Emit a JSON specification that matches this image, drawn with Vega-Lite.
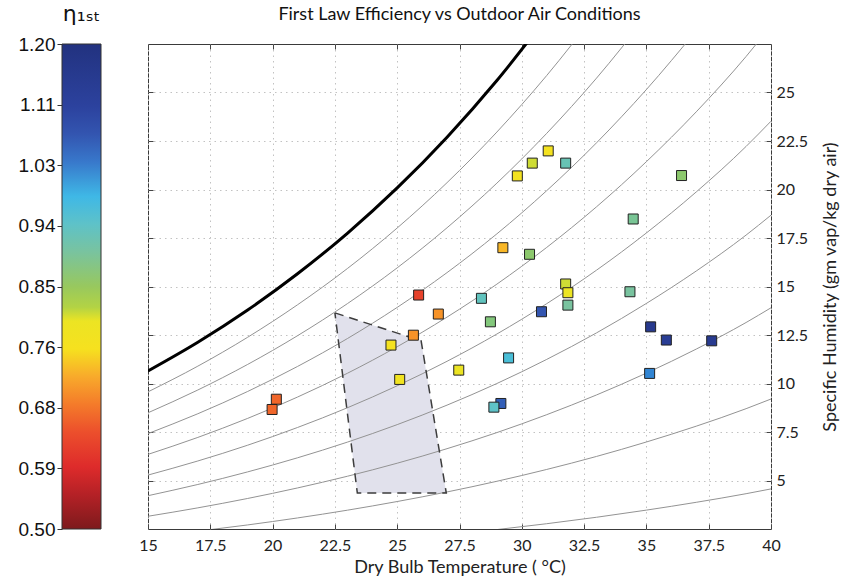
{
  "$schema": "https://vega.github.io/schema/vega-lite/v6.json",
  "background": "white",
  "padding": {"left": 18, "right": 2, "top": 3, "bottom": 1},
  "bounds": "flush",
  "spacing": 47,
  "config": {"view": {"stroke": null}, "font": "Lato"},
  "datasets": {
    "bar": [{"lo": 0.5, "hi": 1.2}],
    "comfortFill": [
      {"w": 4.35, "Tl": 23.4, "Tr": 26.97},
      {"w": 12.2, "Tl": 22.64, "Tr": 25.96},
      {"w": 13.64, "Tl": 22.5, "Tr": 22.5}
    ],
    "comfortEdge": [
      {"i": 1, "T": 22.5, "w": 13.64},
      {"i": 2, "T": 25.96, "w": 12.2},
      {"i": 3, "T": 26.97, "w": 4.35},
      {"i": 4, "T": 23.4, "w": 4.35},
      {"i": 5, "T": 22.5, "w": 13.64}
    ],
    "curves": [
      {"rh": 100, "T": 15, "w": 10.65}, {"rh": 100, "T": 17, "w": 12.129}, {"rh": 100, "T": 19, "w": 13.79}, {"rh": 100, "T": 21, "w": 15.657}, {"rh": 100, "T": 23, "w": 17.744}, {"rh": 100, "T": 25, "w": 20.082}, {"rh": 100, "T": 27, "w": 22.697}, {"rh": 100, "T": 29, "w": 25.618}, {"rh": 100, "T": 31, "w": 28.885},
      {"rh": 90, "T": 15, "w": 9.569}, {"rh": 90, "T": 17, "w": 10.894}, {"rh": 90, "T": 19, "w": 12.384}, {"rh": 90, "T": 21, "w": 14.057}, {"rh": 90, "T": 23, "w": 15.925}, {"rh": 90, "T": 25, "w": 18.016}, {"rh": 90, "T": 27, "w": 20.353}, {"rh": 90, "T": 29, "w": 22.962}, {"rh": 90, "T": 31, "w": 25.876}, {"rh": 90, "T": 33, "w": 29.109},
      {"rh": 80, "T": 15, "w": 8.491}, {"rh": 80, "T": 17, "w": 9.665}, {"rh": 80, "T": 19, "w": 10.984}, {"rh": 80, "T": 21, "w": 12.463}, {"rh": 80, "T": 23, "w": 14.115}, {"rh": 80, "T": 25, "w": 15.962}, {"rh": 80, "T": 27, "w": 18.027}, {"rh": 80, "T": 29, "w": 20.327}, {"rh": 80, "T": 31, "w": 22.895}, {"rh": 80, "T": 33, "w": 25.742}, {"rh": 80, "T": 35, "w": 28.912},
      {"rh": 70, "T": 15, "w": 7.417}, {"rh": 70, "T": 17, "w": 8.441}, {"rh": 70, "T": 19, "w": 9.59}, {"rh": 70, "T": 21, "w": 10.878}, {"rh": 70, "T": 23, "w": 12.315}, {"rh": 70, "T": 25, "w": 13.923}, {"rh": 70, "T": 27, "w": 15.716}, {"rh": 70, "T": 29, "w": 17.714}, {"rh": 70, "T": 31, "w": 19.941}, {"rh": 70, "T": 33, "w": 22.408}, {"rh": 70, "T": 35, "w": 25.153}, {"rh": 70, "T": 37, "w": 28.185},
      {"rh": 60, "T": 15, "w": 6.346}, {"rh": 60, "T": 17, "w": 7.221}, {"rh": 60, "T": 19, "w": 8.202}, {"rh": 60, "T": 21, "w": 9.301}, {"rh": 60, "T": 23, "w": 10.526}, {"rh": 60, "T": 25, "w": 11.896}, {"rh": 60, "T": 27, "w": 13.423}, {"rh": 60, "T": 29, "w": 15.122}, {"rh": 60, "T": 31, "w": 17.015}, {"rh": 60, "T": 33, "w": 19.109}, {"rh": 60, "T": 35, "w": 21.435}, {"rh": 60, "T": 37, "w": 24.003}, {"rh": 60, "T": 39, "w": 26.856}, {"rh": 60, "T": 40, "w": 28.441},
      {"rh": 50, "T": 15, "w": 5.28}, {"rh": 50, "T": 17, "w": 6.006}, {"rh": 50, "T": 19, "w": 6.82}, {"rh": 50, "T": 21, "w": 7.732}, {"rh": 50, "T": 23, "w": 8.748}, {"rh": 50, "T": 25, "w": 9.882}, {"rh": 50, "T": 27, "w": 11.145}, {"rh": 50, "T": 29, "w": 12.551}, {"rh": 50, "T": 31, "w": 14.115}, {"rh": 50, "T": 33, "w": 15.843}, {"rh": 50, "T": 35, "w": 17.76}, {"rh": 50, "T": 37, "w": 19.874}, {"rh": 50, "T": 39, "w": 22.219}, {"rh": 50, "T": 40, "w": 23.522},
      {"rh": 40, "T": 15, "w": 4.217}, {"rh": 40, "T": 17, "w": 4.795}, {"rh": 40, "T": 19, "w": 5.444}, {"rh": 40, "T": 21, "w": 6.17}, {"rh": 40, "T": 23, "w": 6.978}, {"rh": 40, "T": 25, "w": 7.88}, {"rh": 40, "T": 27, "w": 8.885}, {"rh": 40, "T": 29, "w": 10.0}, {"rh": 40, "T": 31, "w": 11.242}, {"rh": 40, "T": 33, "w": 12.61}, {"rh": 40, "T": 35, "w": 14.128}, {"rh": 40, "T": 37, "w": 15.798}, {"rh": 40, "T": 39, "w": 17.65}, {"rh": 40, "T": 40, "w": 18.677},
      {"rh": 30, "T": 15, "w": 3.157}, {"rh": 30, "T": 17, "w": 3.59}, {"rh": 30, "T": 19, "w": 4.074}, {"rh": 30, "T": 21, "w": 4.616}, {"rh": 30, "T": 23, "w": 5.219}, {"rh": 30, "T": 25, "w": 5.891}, {"rh": 30, "T": 27, "w": 6.64}, {"rh": 30, "T": 29, "w": 7.47}, {"rh": 30, "T": 31, "w": 8.393}, {"rh": 30, "T": 33, "w": 9.41}, {"rh": 30, "T": 35, "w": 10.536}, {"rh": 30, "T": 37, "w": 11.774}, {"rh": 30, "T": 39, "w": 13.144}, {"rh": 30, "T": 40, "w": 13.903},
      {"rh": 20, "T": 15, "w": 2.101}, {"rh": 20, "T": 17, "w": 2.388}, {"rh": 20, "T": 19, "w": 2.71}, {"rh": 20, "T": 21, "w": 3.07}, {"rh": 20, "T": 23, "w": 3.469}, {"rh": 20, "T": 25, "w": 3.916}, {"rh": 20, "T": 27, "w": 4.41}, {"rh": 20, "T": 29, "w": 4.96}, {"rh": 20, "T": 31, "w": 5.57}, {"rh": 20, "T": 33, "w": 6.241}, {"rh": 20, "T": 35, "w": 6.985}, {"rh": 20, "T": 37, "w": 7.8}, {"rh": 20, "T": 39, "w": 8.702}, {"rh": 20, "T": 40, "w": 9.2},
      {"rh": 10, "T": 15, "w": 1.049}, {"rh": 10, "T": 17, "w": 1.192}, {"rh": 10, "T": 19, "w": 1.352}, {"rh": 10, "T": 21, "w": 1.531}, {"rh": 10, "T": 23, "w": 1.73}, {"rh": 10, "T": 25, "w": 1.952}, {"rh": 10, "T": 27, "w": 2.198}, {"rh": 10, "T": 29, "w": 2.47}, {"rh": 10, "T": 31, "w": 2.773}, {"rh": 10, "T": 33, "w": 3.105}, {"rh": 10, "T": 35, "w": 3.473}, {"rh": 10, "T": 37, "w": 3.876}, {"rh": 10, "T": 39, "w": 4.32}, {"rh": 10, "T": 40, "w": 4.566}
    ],
    "points": [
      {"T": 31.06, "w": 21.99, "eta": 0.77},
      {"T": 30.42, "w": 21.36, "eta": 0.81},
      {"T": 31.76, "w": 21.36, "eta": 0.92},
      {"T": 29.82, "w": 20.70, "eta": 0.77},
      {"T": 36.41, "w": 20.72, "eta": 0.86},
      {"T": 34.47, "w": 18.48, "eta": 0.89},
      {"T": 29.24, "w": 17.00, "eta": 0.73},
      {"T": 30.31, "w": 16.66, "eta": 0.86},
      {"T": 31.76, "w": 15.13, "eta": 0.81},
      {"T": 31.85, "w": 14.68, "eta": 0.80},
      {"T": 31.85, "w": 14.04, "eta": 0.90},
      {"T": 34.34, "w": 14.73, "eta": 0.90},
      {"T": 28.38, "w": 14.39, "eta": 0.93},
      {"T": 30.79, "w": 13.70, "eta": 1.07},
      {"T": 28.74, "w": 13.18, "eta": 0.87},
      {"T": 26.65, "w": 13.58, "eta": 0.70},
      {"T": 35.17, "w": 12.92, "eta": 1.16},
      {"T": 35.80, "w": 12.24, "eta": 1.14},
      {"T": 37.62, "w": 12.20, "eta": 1.15},
      {"T": 29.47, "w": 11.32, "eta": 0.96},
      {"T": 27.47, "w": 10.69, "eta": 0.80},
      {"T": 35.13, "w": 10.52, "eta": 1.02},
      {"T": 29.16, "w": 8.97, "eta": 1.06},
      {"T": 28.88, "w": 8.78, "eta": 0.94},
      {"T": 25.86, "w": 14.56, "eta": 0.62},
      {"T": 25.65, "w": 12.49, "eta": 0.70},
      {"T": 24.75, "w": 11.98, "eta": 0.77},
      {"T": 25.10, "w": 10.21, "eta": 0.78},
      {"T": 20.15, "w": 9.19, "eta": 0.66},
      {"T": 19.98, "w": 8.66, "eta": 0.66}
    ]
  },
  "hconcat": [
    {
      "width": 39,
      "height": 485,
      "title": {"text": "η₁ₛₜ", "font": "DejaVu Sans", "fontSize": 22, "fontWeight": "normal", "offset": 9, "anchor": "middle", "color": "#111"},
      "data": {"name": "bar"},
      "mark": {
        "type": "rect",
        "stroke": "#333",
        "strokeWidth": 1,
        "fill": {
          "gradient": "linear", "x1": 0, "x2": 0, "y1": 1, "y2": 0,
          "stops": [
            {"offset": 0, "color": "#7d1a1c"},
            {"offset": 0.0714, "color": "#b52126"},
            {"offset": 0.1286, "color": "#de2b2b"},
            {"offset": 0.2, "color": "#ec4f2c"},
            {"offset": 0.2571, "color": "#f47b2a"},
            {"offset": 0.3143, "color": "#f8aa2b"},
            {"offset": 0.3714, "color": "#f6e11f"},
            {"offset": 0.4286, "color": "#ece423"},
            {"offset": 0.4571, "color": "#b3d344"},
            {"offset": 0.5, "color": "#98c85e"},
            {"offset": 0.5714, "color": "#79c39f"},
            {"offset": 0.6286, "color": "#5ec2c8"},
            {"offset": 0.6857, "color": "#3fb8e6"},
            {"offset": 0.7571, "color": "#3878cb"},
            {"offset": 0.8143, "color": "#3355b0"},
            {"offset": 0.8714, "color": "#2c429e"},
            {"offset": 1, "color": "#22327f"}
          ]
        }
      },
      "encoding": {
        "x": {"value": 0},
        "x2": {"value": "width"},
        "y": {
          "field": "lo", "type": "quantitative",
          "scale": {"domain": [0.5, 1.2], "nice": false, "zero": false},
          "axis": {
            "orient": "left", "title": null, "grid": false, "domain": false,
            "values": [0.5, 0.5875, 0.67501, 0.7625, 0.85, 0.9375, 1.02501, 1.1125, 1.2],
            "format": ".2f", "tickSize": 5, "tickColor": "#333",
            "labelFont": "Liberation Sans", "labelFontSize": 19, "labelColor": "#111", "labelPadding": 2
          }
        },
        "y2": {"field": "hi"}
      }
    },
    {
      "width": 623,
      "height": 485,
      "view": {"stroke": "#3a3a3a", "strokeWidth": 1},
      "title": {"text": "First Law Efficiency vs Outdoor Air Conditions", "font": "Lato", "fontSize": 18, "fontWeight": "normal", "offset": 20, "anchor": "middle", "color": "#111"},
      "resolve": {"axis": {"x": "independent", "y": "independent"}},
      "layer": [
        {
          "data": {"name": "comfortFill"},
          "mark": {"type": "area", "orient": "horizontal", "fill": "#e1e1ec", "opacity": 1},
          "encoding": {
            "x": {
              "field": "Tl", "type": "quantitative",
              "scale": {"domain": [15, 40], "nice": false, "zero": false},
              "axis": {
                "orient": "bottom", "title": "Dry Bulb Temperature ( °C)",
                "values": [15, 17.5, 20, 22.5, 25, 27.5, 30, 32.5, 35, 37.5, 40],
                "format": ".3~g",
                "grid": true, "gridDash": [1.5, 4], "gridColor": "#c2c2c2",
                "domain": false, "tickSize": -5, "tickColor": "#444",
                "labelFontSize": 16, "labelColor": "#222", "labelPadding": 13, "labelFlush": false,
                "titleFontSize": 18, "titleFontWeight": "normal", "titleColor": "#222", "titlePadding": 5
              }
            },
            "x2": {"field": "Tr"},
            "y": {
              "field": "w", "type": "quantitative",
              "scale": {"domain": [2.5, 27.5], "nice": false, "zero": false},
              "axis": {
                "orient": "right", "title": "Specific Humidity (gm vap/kg dry air)",
                "values": [5, 7.5, 10, 12.5, 15, 17.5, 20, 22.5, 25],
                "format": ".3~g",
                "grid": true, "gridDash": [1.5, 4], "gridColor": "#c2c2c2",
                "domain": false, "tickSize": -5, "tickColor": "#444",
                "labelFontSize": 16, "labelColor": "#222", "labelPadding": 10,
                "titleFontSize": 18, "titleFontWeight": "normal", "titleColor": "#222",
                "titleAngle": 270, "titleBaseline": "top", "titlePadding": 14
              }
            }
          }
        },
        {
          "data": {"name": "curves"},
          "transform": [{"filter": "datum.rh < 100"}],
          "mark": {"type": "line", "color": "#939393", "strokeWidth": 1, "interpolate": "monotone", "clip": true},
          "encoding": {
            "x": {"field": "T", "type": "quantitative", "axis": null},
            "y": {"field": "w", "type": "quantitative", "axis": null},
            "detail": {"field": "rh", "type": "nominal"}
          }
        },
        {
          "data": {"name": "curves"},
          "transform": [{"filter": "datum.rh == 100"}],
          "mark": {"type": "line", "color": "#000000", "strokeWidth": 3, "interpolate": "monotone", "clip": true},
          "encoding": {
            "x": {"field": "T", "type": "quantitative", "axis": null},
            "y": {"field": "w", "type": "quantitative", "axis": null}
          }
        },
        {
          "data": {"name": "comfortEdge"},
          "mark": {"type": "line", "color": "#3d3d3d", "strokeWidth": 1.5, "strokeDash": [9, 6]},
          "encoding": {
            "x": {"field": "T", "type": "quantitative", "axis": null},
            "y": {"field": "w", "type": "quantitative", "axis": null},
            "order": {"field": "i", "type": "quantitative"}
          }
        },
        {
          "data": {"name": "points"},
          "mark": {"type": "square", "size": 100, "filled": true, "stroke": "#222", "strokeWidth": 1, "opacity": 1},
          "encoding": {
            "x": {
              "field": "T", "type": "quantitative",
              "axis": {"orient": "top", "title": null, "labels": false, "grid": false, "domain": false, "tickSize": -5, "tickColor": "#444",
                       "values": [15, 17.5, 20, 22.5, 25, 27.5, 30, 32.5, 35, 37.5, 40]}
            },
            "y": {
              "field": "w", "type": "quantitative",
              "axis": {"orient": "left", "title": null, "labels": false, "grid": false, "domain": false, "tickSize": -5, "tickColor": "#444",
                       "values": [5, 7.5, 10, 12.5, 15, 17.5, 20, 22.5, 25]}
            },
            "fill": {
              "field": "eta", "type": "quantitative", "legend": null,
              "scale": {
                "domain": [0.5, 0.55, 0.59, 0.64, 0.68, 0.72, 0.76, 0.8, 0.82, 0.85, 0.9, 0.94, 0.98, 1.03, 1.07, 1.11, 1.2],
                "range": ["#7d1a1c", "#b52126", "#de2b2b", "#ec4f2c", "#f47b2a", "#f8aa2b", "#f6e11f", "#ece423", "#b3d344", "#98c85e", "#79c39f", "#5ec2c8", "#3fb8e6", "#3878cb", "#3355b0", "#2c429e", "#22327f"]
              }
            }
          }
        }
      ]
    }
  ]
}
